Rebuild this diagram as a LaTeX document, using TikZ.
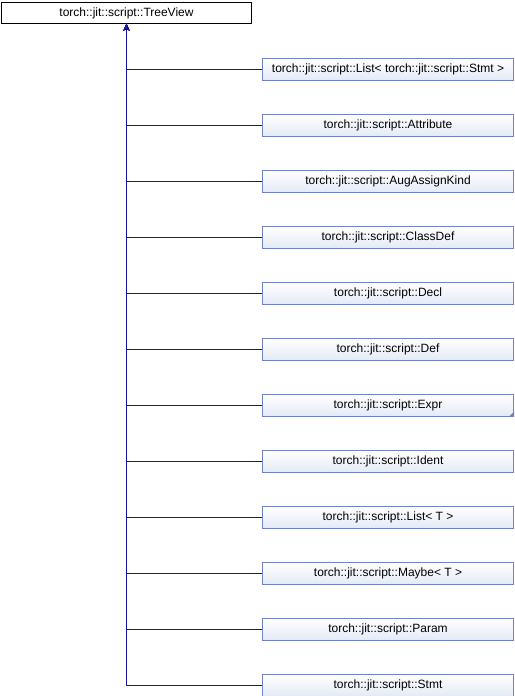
\documentclass[tikz,border=0pt]{standalone}
\usepackage{fontspec}
\setmainfont{Liberation Sans}
\usetikzlibrary{arrows.meta}
\begin{document}
\begin{tikzpicture}[x=1pt,y=-1pt]
		\definecolor{edgeblue}{RGB}{20,20,160}
		\definecolor{boxline}{RGB}{112,132,196}
		\definecolor{boxfill}{RGB}{228,234,246}
		\tikzset{
			rootbox/.style={draw=black,fill=white,minimum width=250pt,minimum height=21pt,inner sep=0pt,font=\fontsize{12}{14}\selectfont},
			childbox/.style={draw=boxline,line width=1pt,top color=white,bottom color=boxfill,minimum width=251pt,minimum height=22pt,inner sep=0pt,font=\fontsize{12}{14}\selectfont},
			inherit/.style={draw=edgeblue,line width=1pt,-{Stealth[length=7pt,width=6pt]}}
		}
		\useasboundingbox (0,0) rectangle (514,696);
		\node[rootbox] (root) at (126.5,13) {torch::jit::script::TreeView};
		\foreach \name [count=\i] in {List< torch::jit::script::Stmt >,Attribute,AugAssignKind,ClassDef,Decl,Def,Expr,Ident,List< T >,Maybe< T >,Param,Stmt} {
			\ifnum\i=1
				\node[childbox] (c\i) at (388,69) {torch::jit::script::\name};
			\else
				\node[childbox] (c\i) at (388,{69+56*(\i-1)}) {torch::jit::script::\name};
			\fi
			\draw[inherit] (c\i.west) -| (root.south);
		}
		% small corner mark: Expr has children of its own
		\fill[boxline] (c7.south east) -- ++(0,-5) -- ++(-5,5) -- cycle;
	\end{tikzpicture}
\end{document}
